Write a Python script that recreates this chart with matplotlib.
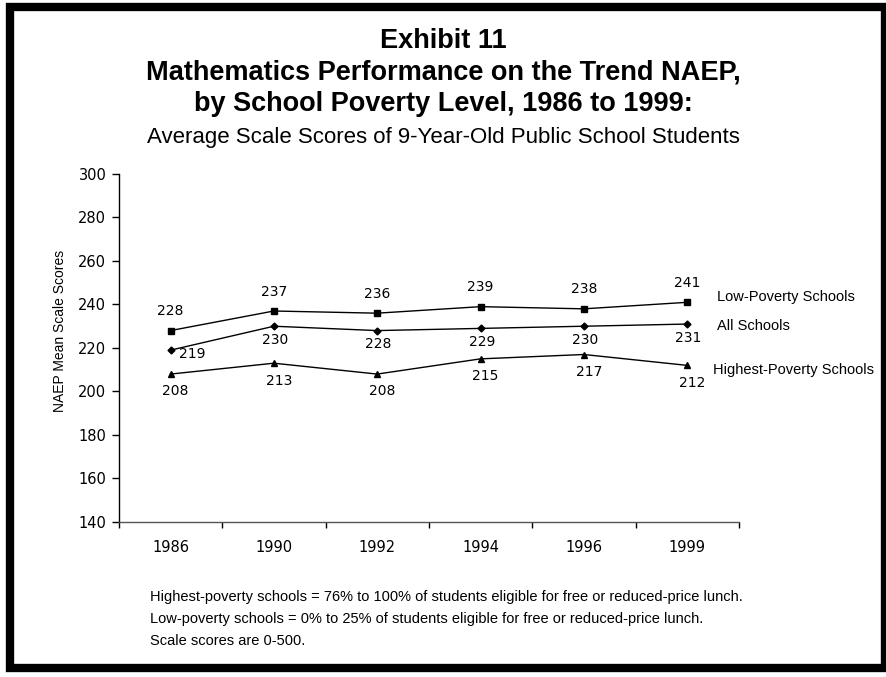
import matplotlib.pyplot as plt
import numpy as np
from matplotlib.patches import Rectangle

plt.rcParams["font.family"] = ["Liberation Sans", "DejaVu Sans"]

years = ["1986", "1990", "1992", "1994", "1996", "1999"]
low_poverty = [228, 237, 236, 239, 238, 241]
all_schools = [219, 230, 228, 229, 230, 231]
high_poverty = [208, 213, 208, 215, 217, 212]
y_ticks = [140, 160, 180, 200, 220, 240, 260, 280, 300]

num_font = "DejaVu Sans"

fig = plt.figure(figsize=(8.87, 6.77), dpi=100)
ax = fig.add_axes([0.134, 0.229, 0.699, 0.514])

x = np.arange(len(years)) + 0.5

ax.plot(x, low_poverty, color="black", linewidth=1, marker="s", markersize=5)
ax.plot(x, all_schools, color="black", linewidth=1, marker="D", markersize=3.5)
ax.plot(x, high_poverty, color="black", linewidth=1, marker="^", markersize=5)

# data labels
for i, v in enumerate(low_poverty):
    ax.annotate(str(v), (x[i], v), xytext=(0, 14), textcoords="offset points",
                ha="center", va="center", fontsize=10, family=num_font)
for i, v in enumerate(all_schools):
    if i == 0:
        ax.annotate(str(v), (x[i], v), xytext=(6, -3), textcoords="offset points",
                    ha="left", va="center", fontsize=10, family=num_font)
    else:
        ax.annotate(str(v), (x[i], v), xytext=(1, -10), textcoords="offset points",
                    ha="center", va="center", fontsize=10, family=num_font)
for i, v in enumerate(high_poverty):
    ax.annotate(str(v), (x[i], v), xytext=(3.5, -12.5), textcoords="offset points",
                ha="center", va="center", fontsize=10, family=num_font)

# series names on the right
ax.text(5.79, 243.4, "Low-Poverty Schools", fontsize=10.5, va="center", ha="left", clip_on=False)
ax.text(5.79, 230.1, "All Schools", fontsize=10.5, va="center", ha="left", clip_on=False)
ax.text(5.75, 209.9, "Highest-Poverty Schools", fontsize=10.5, va="center", ha="left", clip_on=False)

ax.set_xlim(0, 6)
ax.set_ylim(140, 300)
ax.set_yticks(y_ticks)
ax.set_yticklabels([str(t) for t in y_ticks], fontsize=10.5, family=num_font)
ax.set_xticks(np.arange(0, 7))
ax.set_xticklabels([])
ax.set_xticks(x, minor=True)
ax.set_xticklabels(years, minor=True, fontsize=10.5, family=num_font)
ax.tick_params(axis="x", which="major", direction="out", length=4, width=1)
ax.tick_params(axis="x", which="minor", length=0, pad=13)
ax.tick_params(axis="y", direction="out", length=5, width=1, pad=4)

for side in ["top", "right"]:
    ax.spines[side].set_visible(False)
ax.spines["left"].set_linewidth(1)
ax.spines["bottom"].set_linewidth(1)
ax.spines["bottom"].set_color("#555555")

fig.text(60 / 887, 1 - 331 / 677, "NAEP Mean Scale Scores", rotation=90,
         ha="center", va="center", fontsize=10)

# titles
fig.text(0.5, 0.940, "Exhibit 11", ha="center", va="center", fontsize=19.5, fontweight="bold")
fig.text(0.5, 0.893, "Mathematics Performance on the Trend NAEP,", ha="center", va="center",
         fontsize=19.5, fontweight="bold")
fig.text(0.5, 0.846, "by School Poverty Level, 1986 to 1999:", ha="center", va="center",
         fontsize=19.5, fontweight="bold")
fig.text(0.5, 0.797, "Average Scale Scores of 9-Year-Old Public School Students", ha="center",
         va="center", fontsize=16)

# footnotes
notes = [
    "Highest-poverty schools = 76% to 100% of students eligible for free or reduced-price lunch.",
    "Low-poverty schools = 0% to 25% of students eligible for free or reduced-price lunch.",
    "Scale scores are 0-500.",
]
for k, note in enumerate(notes):
    fig.text(0.169, 0.118 - k * 0.0325, note, ha="left", va="center", fontsize=10.5)

# outer frame
fig.patches.append(Rectangle((10 / 887, 9 / 677), 875 / 887, 661 / 677, transform=fig.transFigure,
                             fill=False, edgecolor="black", linewidth=6))

fig.savefig("out.png", dpi=100)
